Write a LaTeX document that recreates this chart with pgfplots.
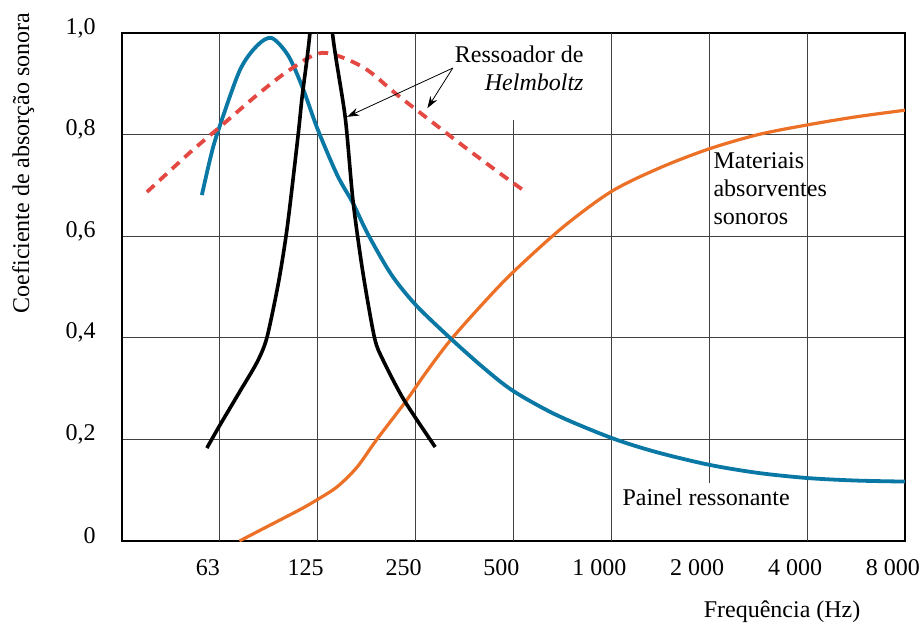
\documentclass[border=0pt]{standalone}
\usepackage{fontspec}
\setmainfont{Liberation Serif}
\usepackage{pgfplots}
\pgfplotsset{compat=1.18}
\usetikzlibrary{arrows.meta}
\definecolor{painel}{RGB}{10,120,165}
\definecolor{materiais}{RGB}{236,112,38}
\definecolor{helm}{RGB}{228,72,66}
\begin{document}
\fontsize{12}{14}\selectfont
\begin{tikzpicture}
\begin{axis}[
    scale only axis,
    width=391.5pt, height=254pt,
    xmin=0, xmax=8, ymin=0, ymax=1,
    clip mode=individual,
    xtick={1,2,3,4,5,6,7,8},
    xticklabels={63,125,250,500,1~000,2~000,4~000,8~000},
    ytick={0,0.2,0.4,0.6,0.8,1},
    yticklabels={0,{0,2},{0,4},{0,6},{0,8},{1,0}},
    major tick length=0pt,
    ymajorgrids,
    major grid style={line width=0.5pt, black!75},
    axis line style={line width=1pt},
    xticklabel style={xshift=-6pt, yshift=-5pt},
    yticklabel style={xshift=-9pt, yshift=2.5pt},
    /pgf/number format/assume math mode=true,
  ]
  % vertical grid (gaps where the labels sit)
  \draw[line width=0.5pt, black!75] (axis cs:1,0) -- (axis cs:1,1);
  \draw[line width=0.5pt, black!75] (axis cs:2,0) -- (axis cs:2,1);
  \draw[line width=0.5pt, black!75] (axis cs:3,0) -- (axis cs:3,1);
  \draw[line width=0.5pt, black!75] (axis cs:4,0) -- (axis cs:4,0.829);
  \draw[line width=0.5pt, black!75] (axis cs:5,0) -- (axis cs:5,1);
  \draw[line width=0.5pt, black!75] (axis cs:6,0.114) -- (axis cs:6,1);
  \draw[line width=0.5pt, black!75] (axis cs:7,0) -- (axis cs:7,1);

  % Materiais absorventes sonoros
  \addplot[materiais, line width=1.6pt, smooth] coordinates {
    (1.20,0.0) (1.48,0.028) (1.82,0.062) (2.0,0.082) (2.2,0.107)
    (2.4,0.145) (2.6,0.199) (2.9,0.275) (3.1,0.33) (3.35,0.394)
    (3.7,0.47) (4.0,0.53) (4.5,0.617) (5.0,0.688) (5.5,0.735)
    (6.0,0.772) (6.5,0.80) (7.0,0.819) (7.5,0.835) (8.0,0.848)
  };
  % Painel ressonante
  \addplot[painel, line width=1.9pt, smooth] coordinates {
    (0.816,0.681) (0.898,0.75) (0.97,0.80) (1.2,0.925) (1.38,0.975)
    (1.53,0.99) (1.7,0.955) (1.85,0.89) (2.0,0.81)
    (2.2,0.72) (2.36,0.665) (2.51,0.605) (2.75,0.525) (3.0,0.465)
    (3.35,0.40) (3.7,0.34) (4.0,0.295) (4.44,0.248) (5.0,0.203)
    (5.46,0.175) (6.0,0.15) (6.5,0.134) (7.0,0.124) (7.5,0.119)
    (8.0,0.117)
  };
  % Ressoador de Helmholtz (banda larga)
  \addplot[helm, line width=1.9pt, smooth,
    dash pattern=on 5pt off 3.5pt] coordinates {
    (0.255,0.687) (0.69,0.764) (1.0,0.815) (1.38,0.878) (1.71,0.927)
    (2.05,0.961) (2.46,0.933) (2.84,0.874) (3.45,0.783) (3.86,0.724)
    (4.14,0.685)
  };
  % Ressoador de Helmholtz (estreito)
  \addplot[black, line width=1.8pt, smooth, tension=0.45] coordinates {
    (0.867,0.183) (1.0,0.228) (1.20,0.293) (1.38,0.352) (1.48,0.40)
    (1.60,0.51) (1.69,0.62) (1.80,0.80) (1.84,0.874) (1.92,1.0)
    (2.03,1.25) (2.15,1.0) (2.28,0.835) (2.36,0.67) (2.46,0.53)
    (2.58,0.40) (2.67,0.355) (2.88,0.278) (3.20,0.185)
  };

  \draw[-{Stealth[length=6pt,width=4pt]}, line width=0.4pt]
    (axis cs:3.38,0.931) -- (axis cs:2.30,0.835);
  \draw[-{Stealth[length=6pt,width=4pt]}, line width=0.4pt]
    (axis cs:3.38,0.931) -- (axis cs:3.12,0.852);
  \node[anchor=north east, align=right, inner sep=0pt]
    at (axis cs:4.72,0.976) {Ressoador de\\ \textit{Helmboltz}};
  \node[anchor=north west, align=left, inner sep=0pt]
    at (axis cs:6.04,0.765) {Materiais\\absorventes\\sonoros};
  \node[anchor=west, inner sep=0pt] at (axis cs:5.11,0.087) {Painel ressonante};
  \node[rotate=90] at (axis description cs:-0.126,0.744)
    {Coeficiente de absorção sonora};
  \node at (axis description cs:0.843,-0.14) {Frequência (Hz)};
\end{axis}
\pgfresetboundingbox
\path[use as bounding box] (current axis.south west) ++(-61pt,-41pt)
  rectangle ++(460pt,311.5pt);
\end{tikzpicture}
\end{document}
